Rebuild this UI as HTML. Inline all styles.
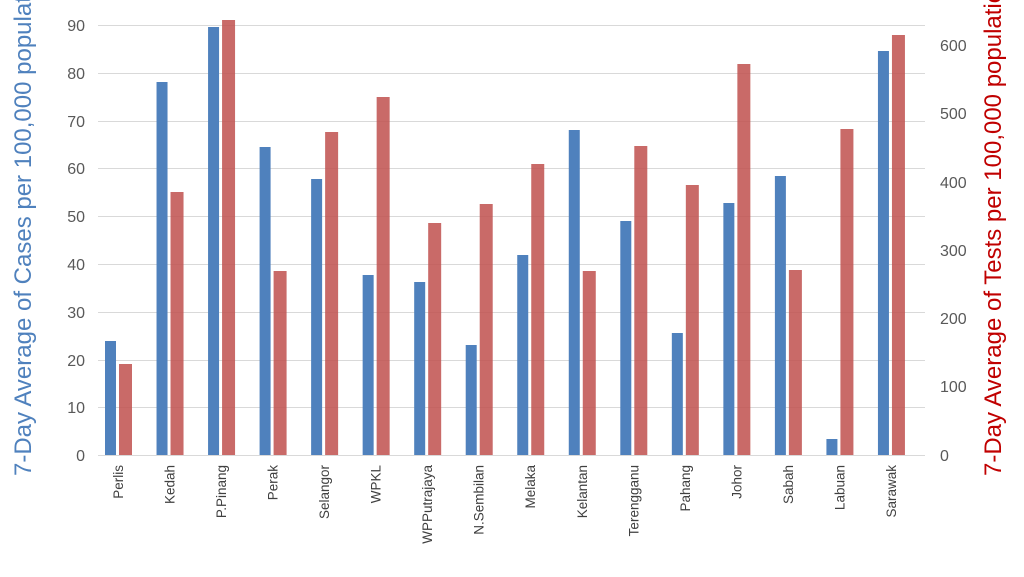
<!DOCTYPE html>
<html><head><meta charset="utf-8"><style>body{margin:0;background:#fff}svg{display:block}</style></head><body>
<svg width="1024" height="577" xmlns="http://www.w3.org/2000/svg" font-family="Liberation Sans, sans-serif">
<rect width="1024" height="577" fill="#fff"/>
<g stroke="#d9d9d9" stroke-width="1">
<line x1="98" x2="925" y1="25.5" y2="25.5"/><line x1="98" x2="925" y1="73.5" y2="73.5"/><line x1="98" x2="925" y1="121.5" y2="121.5"/><line x1="98" x2="925" y1="168.5" y2="168.5"/><line x1="98" x2="925" y1="216.5" y2="216.5"/><line x1="98" x2="925" y1="264.5" y2="264.5"/><line x1="98" x2="925" y1="312.5" y2="312.5"/><line x1="98" x2="925" y1="360.5" y2="360.5"/><line x1="98" x2="925" y1="407.5" y2="407.5"/>
</g>
<g font-size="16" fill="#595959" text-anchor="end">
<text x="85" y="31">90</text><text x="85" y="79">80</text><text x="85" y="127">70</text><text x="85" y="174">60</text><text x="85" y="222">50</text><text x="85" y="270">40</text><text x="85" y="318">30</text><text x="85" y="366">20</text><text x="85" y="413">10</text><text x="85" y="461">0</text>
</g>
<g font-size="16" fill="#595959">
<text x="940" y="51">600</text><text x="940" y="119">500</text><text x="940" y="188">400</text><text x="940" y="256">300</text><text x="940" y="324">200</text><text x="940" y="392">100</text><text x="940" y="461">0</text>
</g>
<g id="bars"></g>
<line x1="98" x2="925" y1="455.5" y2="455.5" stroke="#d9d9d9"/>
<g id="labels" font-size="13.5" fill="#404040" text-anchor="end"></g>
<text transform="translate(31,476) rotate(-90)" font-size="24" fill="#4f81bd">7-Day Average of Cases per 100,000 population</text>
<text transform="translate(1001,476) rotate(-90)" font-size="24" fill="#c00000">7-Day Average of Tests per 100,000 population</text>
<script>
var names=["Perlis","Kedah","P.Pinang","Perak","Selangor","WPKL","WPPutrajaya","N.Sembilan","Melaka","Kelantan","Terengganu","Pahang","Johor","Sabah","Labuan","Sarawak"];
var b=[341,82,27,147,179,275,282,345,255,130,221,333,203,176,439,51];
var r=[364,192,20,271,132,97,223,204,164,271,146,185,64,270,129,35];
var ns="http://www.w3.org/2000/svg",g=document.getElementById("bars"),L=document.getElementById("labels");
for(var i=0;i<16;i++){var c=118+i*51.53;
var e=document.createElementNS(ns,"rect");e.setAttribute("x",c-13);e.setAttribute("width",11);e.setAttribute("y",b[i]);e.setAttribute("height",455-b[i]);e.setAttribute("fill","#4f81bd");g.appendChild(e);
e=document.createElementNS(ns,"rect");e.setAttribute("x",c+1);e.setAttribute("width",13);e.setAttribute("y",r[i]);e.setAttribute("height",455-r[i]);e.setAttribute("fill","#c0504d");e.setAttribute("fill-opacity","0.85");g.appendChild(e);
var t=document.createElementNS(ns,"text");t.setAttribute("transform","translate("+(c+5)+",465) rotate(-90)");t.textContent=names[i];L.appendChild(t);}
</script>
</svg>
</body></html>
